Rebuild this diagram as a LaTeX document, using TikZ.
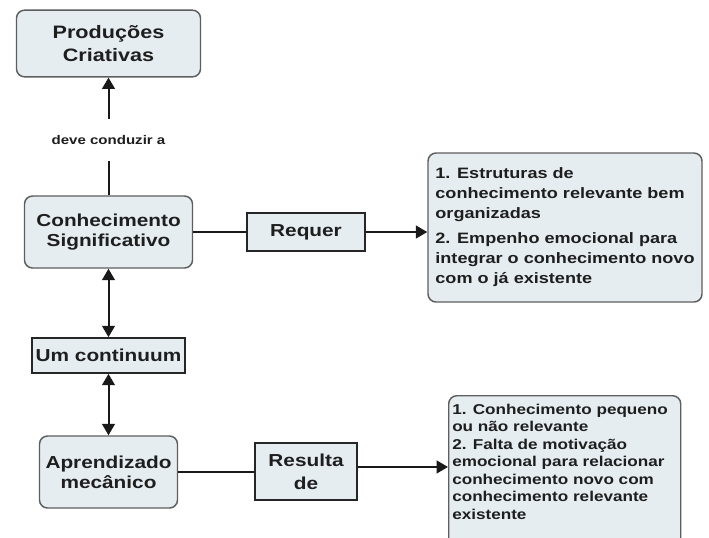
\documentclass[tikz,border=0pt]{standalone}
\usepackage{fontspec}
\setmainfont{Liberation Sans}[FakeStretch=1.2]
\usetikzlibrary{arrows.meta}
\definecolor{boxfill}{HTML}{E6EDF1}
\definecolor{boxline}{HTML}{5E5E5E}
\definecolor{ink}{HTML}{1E1E1E}
\begin{document}
\begin{tikzpicture}[
x=0.75pt, y=-0.75pt,
every node/.style={text=ink},
roundbox/.style={draw=boxline, line width=1.1pt, fill=boxfill, rounded corners=6pt,
  align=center, inner sep=0pt, font=\fontsize{13}{15}\selectfont\bfseries},
squarebox/.style={draw=black!85, line width=1.5pt, fill=boxfill,
  align=center, inner sep=0pt, font=\fontsize{13}{15}\selectfont\bfseries},
listbox/.style={draw=boxline, line width=1.1pt, fill=boxfill, rounded corners=6pt,
  align=left, inner sep=0pt},
link/.style={line width=1.5pt, draw=black!90},
tip/.style={link, -{Triangle[length=8.5pt,width=9.5pt]}},
twotip/.style={link, {Triangle[length=8.5pt,width=9.5pt]}-{Triangle[length=8.5pt,width=9.5pt]}}
]
\useasboundingbox (0,0) rectangle (709,537);

% left column
\node[roundbox, minimum width=138pt, minimum height=50pt,
  font=\fontsize{13.5}{17}\selectfont\bfseries] (prod) at (108.5,43.5) {Produções\\Criativas};
\node[roundbox, minimum width=126pt, minimum height=54pt] (conh) at (108.5,232) {Conhecimento\\Significativo};
\node[squarebox, minimum width=115pt, minimum height=26pt] (cont) at (108.5,355.5) {Um continuum};
\node[roundbox, minimum width=103.5pt, minimum height=54pt] (apr) at (108.5,472) {Aprendizado\\mecânico};

% middle column
\node[squarebox, minimum width=88.5pt, minimum height=28.5pt] (requer) at (306,232) {Requer};
\node[squarebox, minimum width=76.5pt, minimum height=42.75pt, font=\fontsize{13}{17}\selectfont\bfseries] (res) at (306,471.5) {Resulta\\de};

% right column
\node[listbox, minimum width=205.5pt, minimum height=111.75pt,
  font=\fontsize{11.3}{15}\selectfont\bfseries] (reqlist) at (565,227.5)
  {1. Estruturas de\\conhecimento relevante bem\\organizadas\\[3.75pt]
   2. Empenho emocional para\\integrar o conhecimento novo\\com o já existente};
\node[listbox, minimum width=174pt, minimum height=115pt, anchor=north west] (reslist) at (448,395) {};
\node[align=left, inner sep=0pt, anchor=north west, font=\fontsize{10.7}{13.1}\selectfont\bfseries]
  (restext) at ([xshift=3pt,yshift=-6.5pt]reslist.north west)
  {1. Conhecimento pequeno\\ou não relevante\\2. Falta de motivação\\emocional para relacionar\\
   conhecimento novo com\\conhecimento relevante\\existente};

% connectors
\draw[tip] (conh) -- node[pos=0.47, fill=white, inner xsep=2pt, inner ysep=12pt,
  font=\fontsize{9.4}{11}\selectfont\bfseries] (lead) {deve conduzir a} (prod);
\draw[link] (conh.east) -- (requer.west);
\draw[tip] (requer.east) -- (requer.east -| reqlist.west);
\draw[twotip] (conh) -- (cont);
\draw[twotip] (cont) -- (apr);
\draw[link] (apr.east) -- (apr.east -| res.west);
\coordinate (resout) at ([yshift=3.4pt]res.east);
\draw[tip] (resout) -- (resout -| reslist.west);
\end{tikzpicture}
\end{document}
